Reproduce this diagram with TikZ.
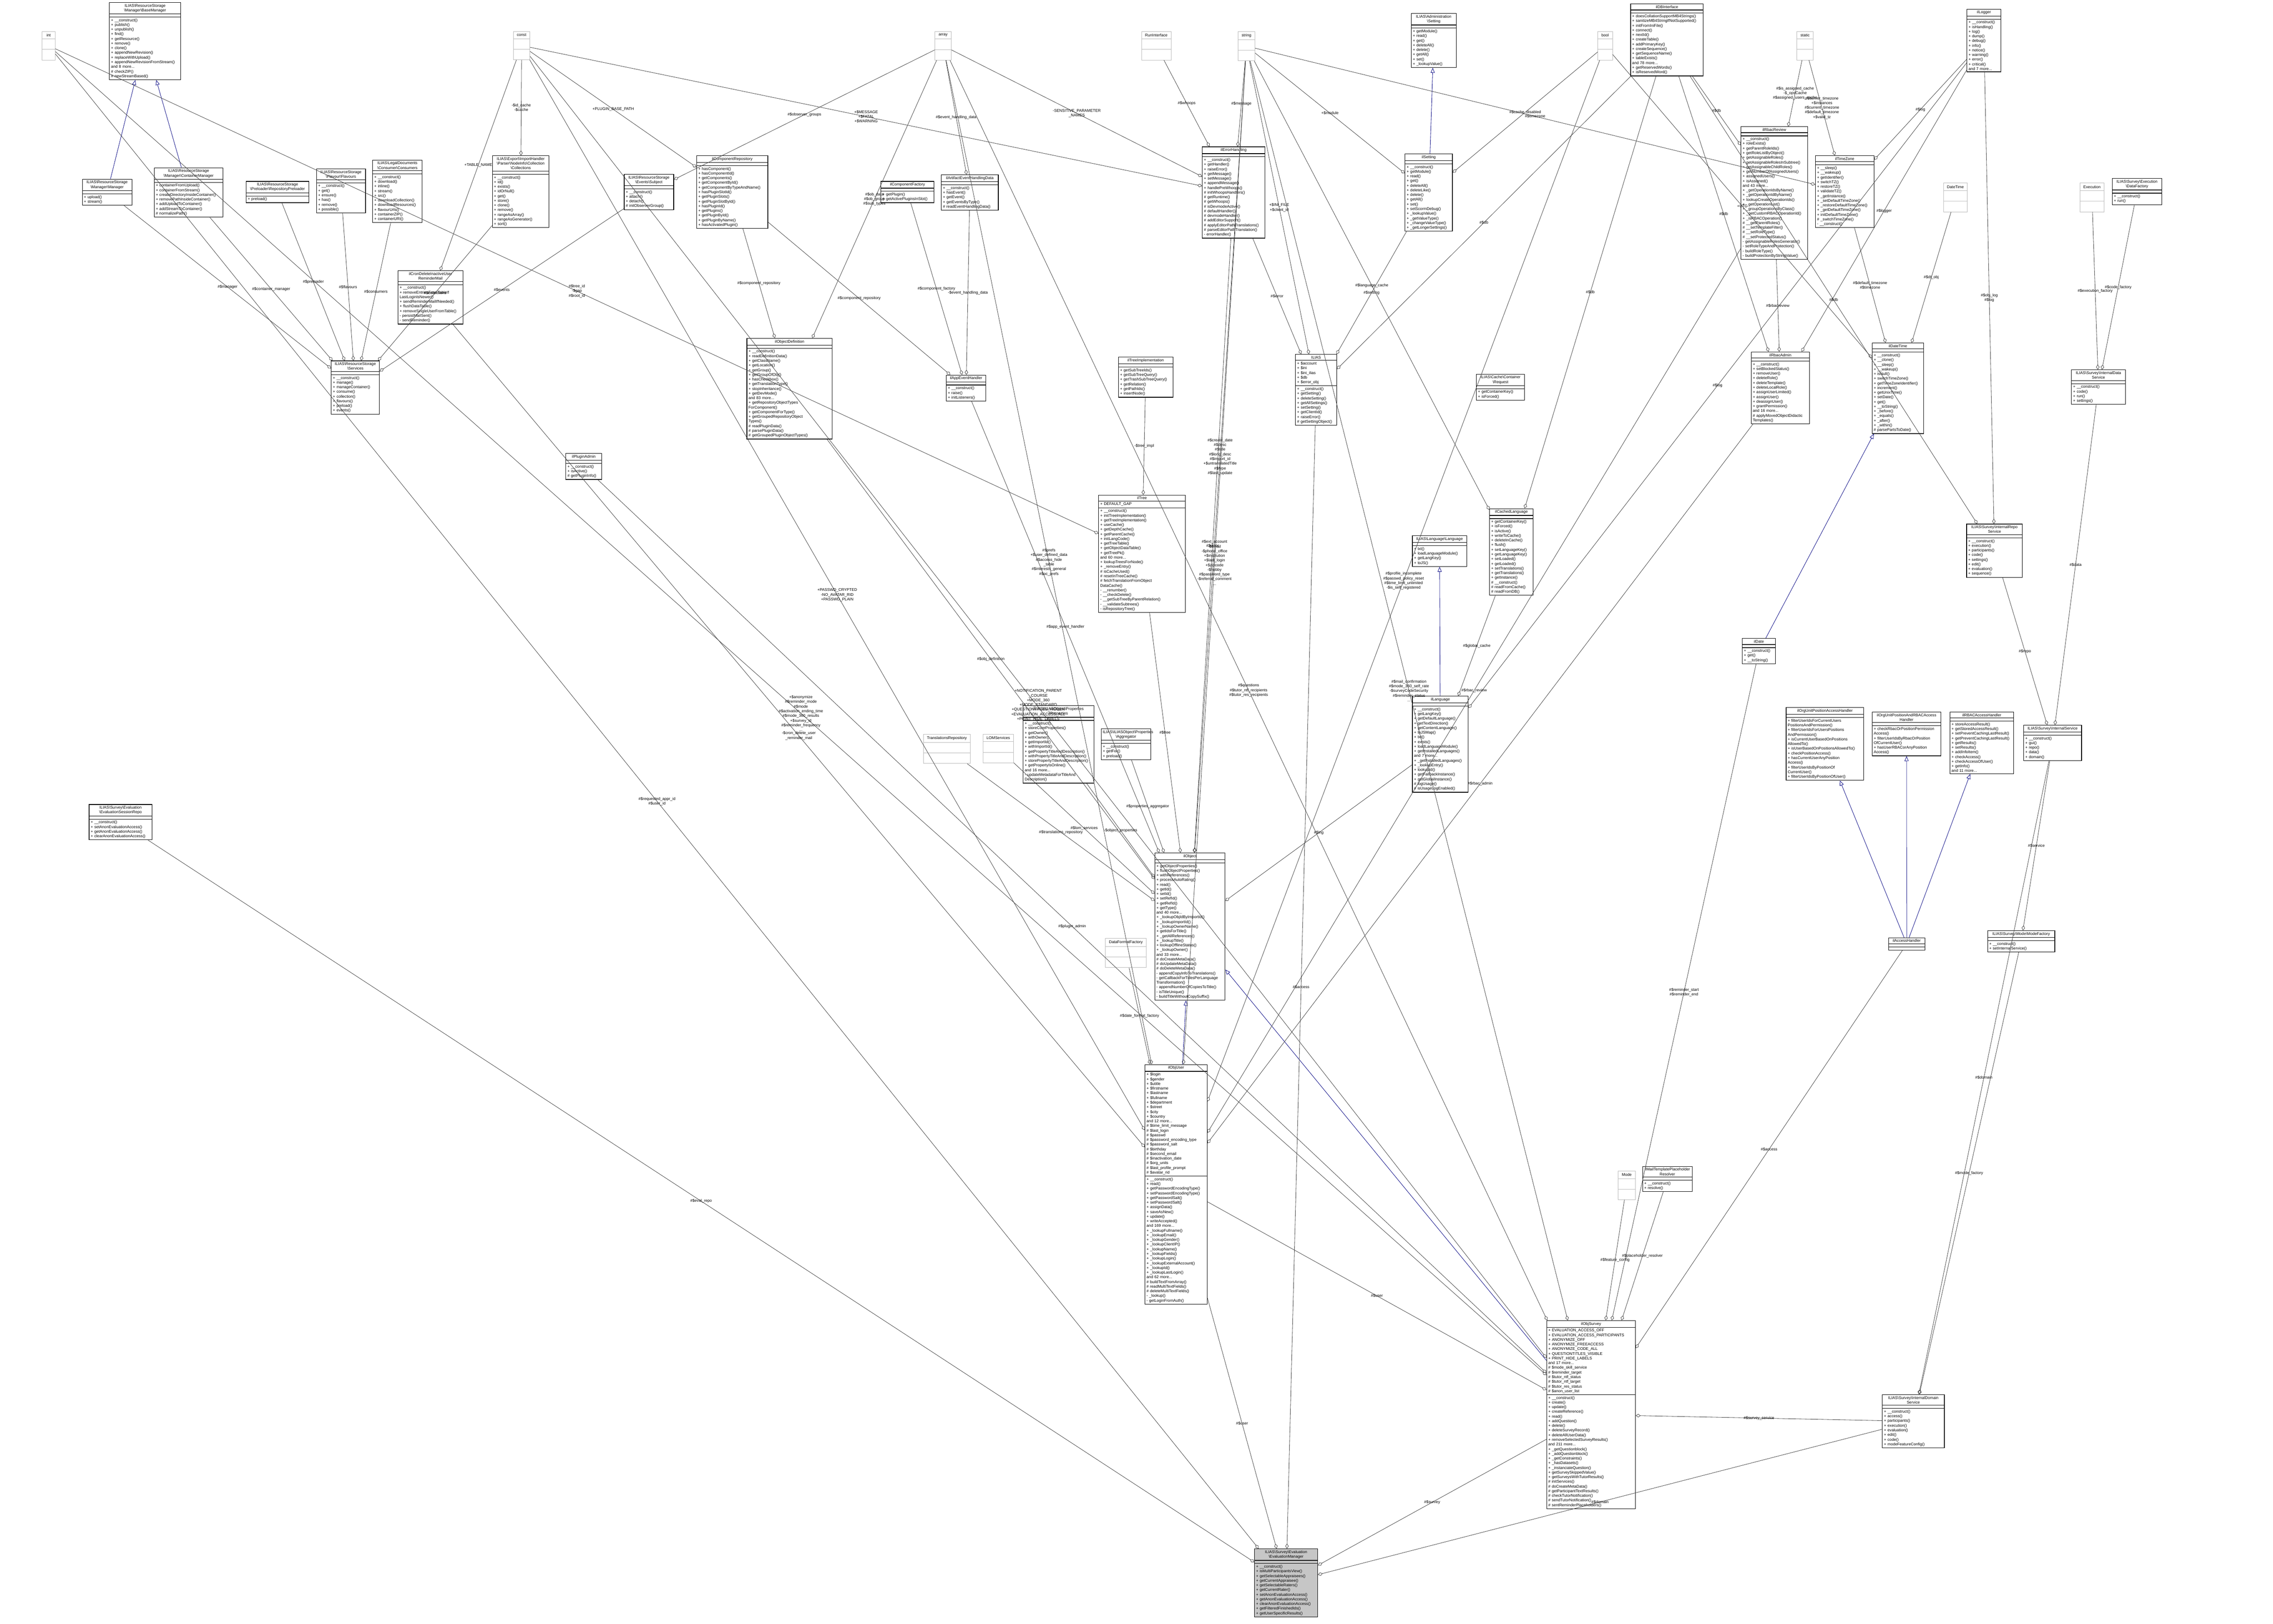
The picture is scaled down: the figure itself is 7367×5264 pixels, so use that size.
\documentclass[tikz,border=0pt]{standalone}
\usepackage{fontspec}
\setmainfont{Liberation Sans}
\usetikzlibrary{arrows.meta,shapes.multipart}

\newcommand{\bs}{\textbackslash{}}
% class box: name, x, y, width(cm), title, attributes, methods
\newcommand{\umlclass}[7]{%
  \node[umlbox, text width=#4cm] (#1) at (#2,#3)
    {{\centering #5\par}\nodepart{two}#6\nodepart{three}#7};}
% grey placeholder for a plain type
\newcommand{\typebox}[4]{%
  \node[typebox] (#1) at (#2,#3) {#4\nodepart{two}\nodepart{three}};}

\begin{document}
\begin{tikzpicture}[x=0.01cm, y=-0.01cm,
   umlbox/.style = {rectangle split, rectangle split parts=3, draw=black,
                    line width=0.5pt, anchor=north west, align=left,
                    inner xsep=1.5pt, inner ysep=1.2pt, fill=white,
                    font=\fontsize{3.6}{4.3}\selectfont},
   typebox/.style = {rectangle split, rectangle split parts=3, draw=gray!55,
                     anchor=north west, align=center, minimum width=0.4cm,
                     inner ysep=2pt, fill=white,
                     font=\fontsize{3.6}{4.3}\selectfont},
       lbl/.style = {font=\fontsize{3.6}{4.3}\selectfont, align=center,
                     inner sep=0.5pt},
every edge/.style = {draw=black!75, line width=0.35pt,
                     -{Diamond[open, length=1.6mm, width=1.1mm]}},
      isa/.style = {draw=blue!50!black, line width=0.35pt,
                     -{Triangle[open, length=1.6mm, width=1.3mm]}}
                        ]
\useasboundingbox (0,0) rectangle (7367,5264);

% plain types
\typebox{int}{136}{101}{int}
\typebox{const}{1663}{101}{const}
\typebox{array}{3030}{101}{array}
\typebox{runif}{3699}{101}{RunInterface}
\typebox{string}{4012}{101}{string}
\typebox{bool}{5178}{101}{bool}
\typebox{static}{5823}{101}{static}
\typebox{datetime}{6298}{593}{DateTime}
\typebox{execution}{6740}{593}{Execution}
\typebox{mode}{5244}{3795}{Mode}
\typebox{transrepo}{2992}{2379}{TranslationsRepository}
\typebox{lomserv}{3185}{2379}{LOMServices}
\typebox{dffactory}{3582}{3041}{DataFormatFactory}

% top row
\umlclass{basemgr}{354}{7}{2.2}{ILIAS\bs ResourceStorage\\\bs Manager\bs BaseManager}{}
 {+ \_\_construct()\\+ publish()\\+ unpublish()\\+ find()\\+ getResource()\\+ remove()\\+ clone()\\+ appendNewRevision()\\+ replaceWithUpload()\\+ appendNewRevisionFromStream()\\and 8 more...\\\# checkZIP()\\\# newStreamBased()}
\umlclass{admsetting}{4573}{43}{1.35}{ILIAS\bs Administration\\\bs Setting}{}
 {+ getModule()\\+ read()\\+ get()\\+ deleteAll()\\+ delete()\\+ getAll()\\+ set()\\+ \_lookupValue()}
\umlclass{dbif}{5284}{12}{2.25}{ilDBInterface}{}
 {+ doesCollationSupportMB4Strings()\\+ sanitizeMB4StringIfNotSupported()\\+ initFromIniFile()\\+ connect()\\+ nextId()\\+ createTable()\\+ addPrimaryKey()\\+ createSequence()\\+ getSequenceName()\\+ tableExists()\\and 78 more...\\+ getReservedWords()\\+ isReservedWord()}
\umlclass{logger}{6374}{29}{1.0}{ilLogger}{}
 {+ \_\_construct()\\+ isHandling()\\+ log()\\+ dump()\\+ debug()\\+ info()\\+ notice()\\+ warning()\\+ error()\\+ critical()\\and 7 more...}

% resource storage
\umlclass{manager}{266}{580}{1.5}{ILIAS\bs ResourceStorage\\\bs Manager\bs Manager}{}
 {+ upload()\\+ stream()}
\umlclass{contmgr}{499}{543}{2.12}{ILIAS\bs ResourceStorage\\\bs Manager\bs ContainerManager}{}
 {+ containerFromUpload()\\+ containerFromStream()\\+ createDirectoryInsideContainer()\\+ removePathInsideContainer()\\+ addUploadToContainer()\\+ addStreamToContainer()\\\# normalizePath()}
\umlclass{preloader}{797}{587}{1.93}{ILIAS\bs ResourceStorage\\\bs Preloader\bs RepositoryPreloader}{}
 {+ preload()}
\umlclass{flavours}{1025}{547}{1.48}{ILIAS\bs ResourceStorage\\\bs Flavour\bs Flavours}{}
 {+ \_\_construct()\\+ get()\\+ ensure()\\+ has()\\+ remove()\\+ possible()}
\umlclass{consumers}{1207}{518}{1.5}{ILIAS\bs LegalDocuments\\\bs Consumer\bs Consumers}{}
 {+ \_\_construct()\\+ download()\\+ inline()\\+ stream()\\+ src()\\+ downloadCollection()\\+ downloadResources()\\+ flavourUrls()\\+ containerZIP()\\+ containerURI()}
\umlclass{collections}{1595}{504}{1.73}{ILIAS\bs Export\bs ImportHandler\\\bs Parser\bs NodeInfo\bs Collection\\\bs Collections}{}
 {+ \_\_construct()\\+ id()\\+ exists()\\+ idOrNull()\\+ get()\\+ store()\\+ clone()\\+ remove()\\+ rangeAsArray()\\+ rangeAsGenerator()\\+ sort()}
\umlclass{subject}{2022}{564}{1.5}{ILIAS\bs ResourceStorage\\\bs Events\bs Subject}{}
 {+ \_\_construct()\\+ attach()\\+ detach()\\\# initObserverGroup()}
\umlclass{comprepo}{2257}{504}{2.2}{ilComponentRepository}{}
 {+ hasComponent()\\+ hasComponentId()\\+ getComponents()\\+ getComponentById()\\+ getComponentByTypeAndName()\\+ hasPluginSlotId()\\+ getPluginSlots()\\+ getPluginSlotById()\\+ hasPluginId()\\+ getPlugins()\\+ getPluginById()\\+ getPluginByName()\\+ hasActivatedPlugin()}
\umlclass{compfactory}{2854}{587}{1.62}{ilComponentFactory}{}
 {+ getPlugin()\\+ getActivePluginsInSlot()}
\umlclass{artifact}{3050}{566}{1.74}{ilArtifactEventHandlingData}{}
 {+ \_\_construct()\\+ hasEvent()\\+ getEvent()\\+ getEventsByType()\\\# readEventHandlingData()}
\umlclass{errhandling}{3896}{475}{1.92}{ilErrorHandling}{}
 {+ \_\_construct()\\+ getHandler()\\+ raiseError()\\+ getMessage()\\+ setMessage()\\+ appendMessage()\\+ handlePreWhoops()\\\# initWhoopsHandlers()\\\# getRuntime()\\\# getWhoops()\\\# isDevmodeActive()\\\# defaultHandler()\\\# devmodeHandler()\\\# addEditorSupport()\\\# applyEditorPathTranslations()\\\# parseEditorPathTranslation()\\- errorHandler()}
\umlclass{setting}{4553}{498}{1.43}{ilSetting}{}
 {+ \_\_construct()\\+ getModule()\\+ read()\\+ get()\\+ deleteAll()\\+ deleteLike()\\+ delete()\\+ getAll()\\+ set()\\+ setScormDebug()\\+ \_lookupValue()\\+ \_getValueType()\\+ \_changeValueType()\\+ \_getLongerSettings()}
\umlclass{rbacreview}{5642}{410}{2.05}{ilRbacReview}{}
 {+ \_\_construct()\\+ roleExists()\\+ getParentRoleIds()\\+ getRoleListByObject()\\+ getAssignableRoles()\\+ getAssignableRolesInSubtree()\\+ getAssignableChildRoles()\\+ getNumberOfAssignedUsers()\\+ assignedUsers()\\+ isAssigned()\\and 43 more...\\+ \_getOperationIdsByName()\\+ \_getOperationIdByName()\\+ lookupCreateOperationIds()\\+ \_getOperationList()\\+ \_groupOperationsByClass()\\+ \_getCustomRBACOperationId()\\+ \_isRBACOperation()\\\# \_\_getParentRoles()\\\# \_\_setTemplateFilter()\\\# \_\_setRoleType()\\\# \_\_setProtectedStatus()\\- getAssignableRolesGenerator()\\- setRoleTypeAndProtection()\\- buildRoleType()\\- buildProtectionByStringValue()}
\umlclass{timezone}{5883}{504}{1.79}{ilTimeZone}{}
 {+ \_\_sleep()\\+ \_\_wakeup()\\+ getIdentifier()\\+ switchTZ()\\+ restoreTZ()\\+ validateTZ()\\+ \_getInstance()\\+ \_setDefaultTimeZone()\\+ \_restoreDefaultTimeZone()\\+ \_getDefaultTimeZone()\\+ initDefaultTimeZone()\\\# \_switchTimeZone()\\- \_\_construct()}
\umlclass{datafactory}{6845}{578}{1.5}{ILIAS\bs Survey\bs Execution\\\bs DataFactory}{}
 {+ \_\_construct()\\+ run()}

% second row
\umlclass{crondel}{1289}{877}{2.0}{ilCronDeleteInactiveUser\\ReminderMail}{}
 {+ \_\_construct()\\+ removeEntriesFromTableIf\\LastLoginIsNewer()\\+ sendReminderMailIfNeeded()\\+ flushDataTable()\\+ removeSingleUserFromTable()\\- persistMailSent()\\- sendReminder()}
\umlclass{services}{1073}{1169}{1.45}{ILIAS\bs ResourceStorage\\\bs Services}{}
 {+ \_\_construct()\\+ manage()\\+ manageContainer()\\+ consume()\\+ collection()\\+ flavours()\\+ preload()\\+ events()}
\umlclass{objdef}{2420}{1096}{2.66}{ilObjectDefinition}{}
 {+ \_\_construct()\\+ readDefinitionData()\\+ getClassName()\\+ getLocation()\\+ getGroup()\\+ getGroupOfObj()\\+ hasCheckbox()\\+ getTranslationType()\\+ stopInheritance()\\+ getDevMode()\\and 83 more...\\+ getRepositoryObjectTypes\\ForComponent()\\+ getComponentForType()\\+ getGroupedRepositoryObject\\Types()\\\# readPluginData()\\\# parsePluginData()\\\# getGroupedPluginObjectTypes()}
\umlclass{appevent}{3066}{1215}{1.18}{ilAppEventHandler}{}
 {+ \_\_construct()\\+ raise()\\+ initListeners()}
\umlclass{treeimpl}{3624}{1157}{1.66}{ilTreeImplementation}{}
 {+ getSubTreeIds()\\+ getSubTreeQuery()\\+ getTrashSubTreeQuery()\\+ getRelation()\\+ getPathIds()\\+ insertNode()}
\umlclass{ilias}{4198}{1148}{1.23}{ILIAS}
 {+ \$account\\+ \$ini\\+ \$ini\_ilias\\+ \$db\\+ \$error\_obj}
 {+ \_\_construct()\\+ getSetting()\\+ deleteSetting()\\+ getAllSettings()\\+ setSetting()\\+ getClientId()\\+ raiseError()\\\# getSettingObject()}
\umlclass{cachereq}{4784}{1212}{1.46}{ILIAS\bs Cache\bs Container\\\bs Request}{}
 {+ getContainerKey()\\+ isForced()}
\umlclass{rbacadmin}{5675}{1140}{1.78}{ilRbacAdmin}{}
 {+ \_\_construct()\\+ setBlockedStatus()\\+ removeUser()\\+ deleteRole()\\+ deleteTemplate()\\+ deleteLocalRole()\\+ assignUserLimited()\\+ assignUser()\\+ deassignUser()\\+ grantPermission()\\and 16 more...\\\# applyMovedObjectDidactic\\Templates()}
\umlclass{datetimeil}{6067}{1111}{1.56}{ilDateTime}{}
 {+ \_\_construct()\\+ \_\_clone()\\+ \_\_sleep()\\+ \_\_wakeup()\\+ isNull()\\+ switchTimeZone()\\+ getTimeZoneIdentifier()\\+ increment()\\+ getUnixTime()\\+ setDate()\\+ get()\\+ \_\_toString()\\+ \_before()\\+ \_equals()\\+ \_after()\\+ \_within()\\\# parsePartsToDate()}
\umlclass{intdata}{6713}{1198}{1.64}{ILIAS\bs Survey\bs InternalData\\Service}{}
 {+ \_\_construct()\\+ code()\\+ run()\\+ settings()}
\umlclass{pluginadmin}{1833}{1469}{1.06}{ilPluginAdmin}{}
 {+ \_\_construct()\\+ isActive()\\\# getPluginInfo()}

% third row
\umlclass{tree}{3560}{1604}{2.7}{ilTree}{+ DEFAULT\_GAP}
 {+ \_\_construct()\\+ initTreeImplementation()\\+ getTreeImplementation()\\+ useCache()\\+ getDepthCache()\\+ getParentCache()\\+ initLangCode()\\+ getTreeTable()\\+ getObjectDataTable()\\+ getTreePk()\\and 60 more...\\+ lookupTreesForNode()\\+ \_removeEntry()\\\# isCacheUsed()\\\# resetInTreeCache()\\\# fetchTranslationFromObject\\DataCache()\\- \_\_renumber()\\- \_\_checkDelete()\\- \_\_getSubTreeByParentRelation()\\- \_\_validateSubtrees()\\- isRepositoryTree()}
\umlclass{cachedlang}{4827}{1648}{1.31}{ilCachedLanguage}{}
 {+ getContainerKey()\\+ isForced()\\+ isActive()\\+ writeToCache()\\+ deleteInCache()\\+ flush()\\+ setLanguageKey()\\+ getLanguageKey()\\+ setLoaded()\\+ getLoaded()\\+ setTranslations()\\+ getTranslations()\\+ getInstance()\\\# \_\_construct()\\\# readFromCache()\\\# readFromDB()}
\umlclass{langlang}{4577}{1736}{1.65}{ILIAS\bs Language\bs Language}{}
 {+ txt()\\+ loadLanguageModule()\\+ getLangKey()\\+ toJS()}
\umlclass{intrepo}{6373}{1698}{1.7}{ILIAS\bs Survey\bs InternalRepo\\Service}{}
 {+ \_\_construct()\\+ execution()\\+ participants()\\+ code()\\+ settings()\\+ edit()\\+ evaluation()\\+ sequence()}
\umlclass{date}{5646}{2069}{0.97}{ilDate}{}
 {+ \_\_construct()\\+ get()\\+ \_\_toString()}
\umlclass{language}{4577}{2256}{1.7}{ilLanguage}{}
 {+ \_\_construct()\\+ getLangKey()\\+ getDefaultLanguage()\\+ getTextDirection()\\+ getContentLanguage()\\+ toJSMap()\\+ txt()\\+ exists()\\+ loadLanguageModule()\\+ getInstalledLanguages()\\and 7 more...\\+ \_getInstalledLanguages()\\+ \_lookupEntry()\\+ lookupId()\\+ getFallbackInstance()\\+ getGlobalInstance()\\\# logUsage()\\\# isUsageLogEnabled()}
\umlclass{properties}{3315}{2287}{2.19}{ILIAS\bs ILIASObject\bs Properties\\\bs Properties}{}
 {+ \_\_construct()\\+ storeCoreProperties()\\+ getOwner()\\+ withOwner()\\+ getImportId()\\+ withImportId()\\+ getPropertyTitleAndDescription()\\+ withPropertyTitleAndDescription()\\+ storePropertyTitleAndDescription()\\+ getPropertyIsOnline()\\and 16 more...\\- updateMetadataForTitleAnd\\Description()}
\umlclass{aggregator}{3568}{2362}{1.5}{ILIAS\bs ILIASObject\bs Properties\\\bs Aggregator}{}
 {+ \_\_construct()\\+ getFor()\\+ preload()}
\umlclass{orgunit}{5788}{2293}{2.41}{ilOrgUnitPositionAccessHandler}{}
 {+ filterUserIdsForCurrentUsers\\PositionsAndPermission()\\+ filterUserIdsForUsersPositions\\AndPermission()\\+ isCurrentUserBasedOnPositions\\AllowedTo()\\+ isUserBasedOnPositionsAllowedTo()\\+ checkPositionAccess()\\+ hasCurrentUserAnyPosition\\Access()\\+ filterUserIdsByPositionOf\\CurrentUser()\\+ filterUserIdsByPositionOfUser()}
\umlclass{orgrbac}{6067}{2307}{2.12}{ilOrgUnitPositionAndRBACAccess\\Handler}{}
 {+ checkRbacOrPositionPermission\\Access()\\+ filterUserIdsByRbacOrPosition\\OfCurrentUser()\\+ hasUserRBACorAnyPosition\\Access()}
\umlclass{rbacaccess}{6319}{2307}{1.96}{ilRBACAccessHandler}{}
 {+ storeAccessResult()\\+ getStoredAccessResult()\\+ setPreventCachingLastResult()\\+ getPreventCachingLastResult()\\+ getResults()\\+ setResults()\\+ addInfoItem()\\+ checkAccess()\\+ checkAccessOfUser()\\+ getInfo()\\and 11 more...}
\umlclass{intservice}{6558}{2350}{1.77}{ILIAS\bs Survey\bs InternalService}{}
 {+ \_\_construct()\\+ gui()\\+ repo()\\+ data()\\+ domain()}
\umlclass{evalrepo}{288}{2607}{1.93}{ILIAS\bs Survey\bs Evaluation\\\bs EvaluationSessionRepo}{}
 {+ \_\_construct()\\+ setAnonEvaluationAccess()\\+ getAnonEvaluationAccess()\\+ clearAnonEvaluationAccess()}

% lower part
\umlclass{object}{3742}{2764}{2.17}{ilObject}{}
 {+ getObjectProperties()\\+ flushObjectProperties()\\+ withReferences()\\+ processAutoRating()\\+ read()\\+ getId()\\+ setId()\\+ setRefId()\\+ getRefId()\\+ getType()\\and 40 more...\\+ \_lookupObjIdByImportId()\\+ \_lookupImportId()\\+ \_lookupOwnerName()\\+ getIdsForTitle()\\+ \_getAllReferences()\\+ \_lookupTitle()\\+ lookupOfflineStatus()\\+ \_lookupOwner()\\and 33 more...\\\# doCreateMetaData()\\\# doUpdateMetaData()\\\# doDeleteMetaData()\\- appendCopyInfoToTranslations()\\- getCallbackForTitlesPerLanguage\\Transformation()\\- appendNumberOfCopiesToTitle()\\- isTitleUnique()\\- buildTitleWithoutCopySuffix()}
\umlclass{access}{6120}{3039}{1.07}{ilAccessHandler}{}{}
\umlclass{modefactory}{6441}{3016}{2.07}{ILIAS\bs Survey\bs Mode\bs ModeFactory}{}
 {+ \_\_construct()\\+ setInternalService()}
\umlclass{objuser}{3710}{3450}{1.91}{ilObjUser}
 {+ \$login\\+ \$gender\\+ \$utitle\\+ \$firstname\\+ \$lastname\\+ \$fullname\\+ \$department\\+ \$street\\+ \$city\\+ \$country\\and 12 more...\\\# \$time\_limit\_message\\\# \$last\_login\\\# \$passwd\\\# \$password\_encoding\_type\\\# \$password\_salt\\\# \$birthday\\\# \$second\_email\\\# \$inactivation\_date\\\# \$org\_units\\\# \$last\_profile\_prompt\\\# \$avatar\_rid}
 {+ \_\_construct()\\+ read()\\+ getPasswordEncodingType()\\+ setPasswordEncodingType()\\+ getPasswordSalt()\\+ setPasswordSalt()\\+ assignData()\\+ saveAsNew()\\+ update()\\+ writeAccepted()\\and 169 more...\\+ \_lookupFullname()\\+ \_lookupEmail()\\+ \_lookupGender()\\+ \_lookupClientIP()\\+ \_lookupName()\\+ \_lookupFields()\\+ \_lookupLogin()\\+ \_lookupExternalAccount()\\+ \_lookupId()\\+ \_lookupLastLogin()\\and 62 more...\\\# buildTextFromArray()\\\# readMultiTextFields()\\\# deleteMultiTextFields()\\- \_lookup()\\- getLoginFromAuth()}
\umlclass{resolver}{5323}{3780}{1.5}{ilMailTemplatePlaceholder\\Resolver}{}
 {+ \_\_construct()\\+ resolve()}
\umlclass{survey}{5012}{4280}{2.77}{ilObjSurvey}
 {+ EVALUATION\_ACCESS\_OFF\\+ EVALUATION\_ACCESS\_PARTICIPANTS\\+ ANONYMIZE\_OFF\\+ ANONYMIZE\_FREEACCESS\\+ ANONYMIZE\_CODE\_ALL\\+ QUESTIONTITLES\_VISIBLE\\+ PRINT\_HIDE\_LABELS\\and 17 more...\\\# \$mode\_skill\_service\\\# \$reminder\_target\\\# \$tutor\_ntf\_status\\\# \$tutor\_ntf\_target\\\# \$tutor\_res\_status\\\# \$anon\_user\_list}
 {+ \_\_construct()\\+ create()\\+ update()\\+ createReference()\\+ read()\\+ addQuestion()\\+ delete()\\+ deleteSurveyRecord()\\+ deleteAllUserData()\\+ removeSelectedSurveyResults()\\and 211 more...\\+ \_getQuestionblock()\\+ \_addQuestionblock()\\+ \_getConstraints()\\+ \_hasDatasets()\\+ \_instanciateQuestion()\\+ getSurveySkippedValue()\\+ getSurveysWithTutorResults()\\\# initServices()\\\# doCreateMetaData()\\\# getParticipantTextResults()\\\# checkTutorNotification()\\\# sendTutorNotification()\\\# sentReminderPlaceholders()}
\umlclass{intdomain}{6100}{4520}{1.9}{ILIAS\bs Survey\bs InternalDomain\\Service}{}
 {+ \_\_construct()\\+ access()\\+ participants()\\+ execution()\\+ evaluation()\\+ edit()\\+ code()\\+ modeFeatureConfig()}
\node[umlbox, text width=1.94cm, fill=gray!45] (evalmgr) at (4065,5020)
 {{\centering ILIAS\bs Survey\bs Evaluation\\\bs EvaluationManager\par}\nodepart{two}\nodepart{three}%
  + \_\_construct()\\+ isMultiParticipantsView()\\+ getSelectableAppraisees()\\+ getCurrentAppraisee()\\+ getSelectableRaters()\\+ getCurrentRater()\\+ setAnonEvaluationAccess()\\+ getAnonEvaluationAccess()\\+ clearAnonEvaluationAccess()\\+ getFilteredFinishedIds()\\+ getUserSpecificResults()};

% inheritance
\draw[isa] (manager) -- (basemgr);
\draw[isa] (contmgr) -- (basemgr);
\draw[isa] (setting) -- (admsetting);
\draw[isa] (language) -- (langlang);
\draw[isa] (date) -- (datetimeil);
\draw[isa] (objuser) -- (object);
\draw[isa] (survey) -- (object);
\draw[isa] (access) -- (orgunit);
\draw[isa] (access) -- (orgrbac);
\draw[isa] (access) -- (rbacaccess);

% members
\path   (manager) edge node[lbl]{\#\$manager} (services)
        (contmgr) edge node[lbl]{\#\$container\_manager} (services)
        (preloader) edge node[lbl]{\#\$preloader} (services)
        (flavours) edge node[lbl]{\#\$flavours} (services)
        (consumers) edge node[lbl]{\#\$consumers} (services)
        (collections) edge node[lbl]{\#\$collections} (services)
        (subject) edge node[lbl]{\#\$events} (services)
        (int) edge node[lbl]{\#\$tree\_id\\-\$gap\\\#\$root\_id} (tree)
        (const) edge node[lbl]{+TABLE\_NAME} (crondel)
        (const) edge node[lbl]{-\$id\_cache\\-\$cache} (collections)
        (const) edge node[lbl]{+PLUGIN\_BASE\_PATH} (comprepo)
        (array) edge node[lbl]{\#\$observer\_groups} (subject)
        (array) edge node[lbl]{\#\$event\_handling\_data} (artifact)
        (array) edge node[lbl]{-SENSITIVE\_PARAMETER\\\_NAMES} (errhandling)
        (runif) edge node[lbl]{\#\$whoops} (errhandling)
        (string) edge node[lbl]{\#\$message} (errhandling)
        (const) edge node[lbl]{+\$MESSAGE\\+\$FATAL\\+\$WARNING} (errhandling)
        (string) edge node[lbl]{+\$module} (setting)
        (bool) edge node[lbl]{\#\$cache\_disabled} (setting)
        (string) edge node[lbl]{+\$INI\_FILE\\+\$client\_id} (ilias)
        (setting) edge node[lbl]{\#\$setting} (ilias)
        (errhandling) edge node[lbl]{\#\$error} (ilias)
        (dbif) edge node[lbl]{\#\$db} (ilias)
        (dbif) edge node[lbl]{\#\$db} (rbacreview)
        (static) edge node[lbl]{\#\$is\_assigned\_cache\\-\$\_opsCache\\\#\$assigned\_users\_cache} (rbacreview)
        (static) edge node[lbl]{\#\$server\_timezone\\+\$instances\\\#\$current\_timezone\\\#\$default\_timezone\\+\$valid\_tz} (timezone)
        (logger) edge node[lbl]{\#\$log} (timezone)
        (string) edge node[lbl]{\#\$timezone} (timezone)
        (bool) edge node[lbl]{+UTC} (datetimeil)
        (rbacreview) edge node[lbl]{\#\$rbacreview} (rbacadmin)
        (dbif) edge node[lbl]{\#\$db} (rbacadmin)
        (logger) edge node[lbl]{\#\$logger} (rbacadmin)
        (timezone) edge node[lbl]{\#\$default\_timezone\\\#\$timezone} (datetimeil)
        (datetime) edge node[lbl]{\#\$dt\_obj} (datetimeil)
        (execution) edge node[lbl]{\#\$execution\_factory} (intdata)
        (datafactory) edge node[lbl]{\#\$code\_factory} (intdata)
        (comprepo) edge node[lbl]{\#\$component\_repository} (objdef)
        (comprepo) edge node[lbl]{\#\$component\_repository} (appevent)
        (compfactory) edge node[lbl]{\#\$component\_factory} (appevent)
        (artifact) edge node[lbl]{-\$event\_handling\_data} (appevent)
        (array) edge node[lbl]{\#\$ob\_data\\\#\$ob\_group\\\#\$sub\_types} (objdef)
        (treeimpl) edge node[lbl]{-\$tree\_impl} (tree)
        (dbif) edge node[lbl]{\#\$db} (cachedlang)
        (string) edge node[lbl]{\#\$language\_cache} (cachedlang)
        (cachedlang) edge node[lbl]{\#\$global\_cache} (language)
        (logger) edge node[lbl]{\#\$log} (language)
        (dbif) edge node[lbl]{\#\$db} (intrepo)
        (logger) edge node[lbl]{\#\$obj\_log\\\#\$log} (intrepo)
        (intrepo) edge node[lbl]{\#\$repo} (intservice)
        (intdata) edge node[lbl]{\#\$data} (intservice)
        (intservice) edge node[lbl]{\#\$service} (modefactory)
        (modefactory) edge node[lbl]{\#\$mode\_factory} (intdomain)
        (intservice) edge node[lbl]{\#\$domain} (intdomain)
        (language) edge node[lbl]{\#\$lng} (object)
        (tree) edge node[lbl]{\#\$tree} (object)
        (objdef) edge node[lbl]{\#\$obj\_definition} (object)
        (appevent) edge node[lbl]{\#\$app\_event\_handler} (object)
        (errhandling) edge node[lbl]{\#\$error} (object)
        (properties) edge node[lbl]{-\$object\_properties} (object)
        (transrepo) edge node[lbl]{\#\$translations\_repository} (object)
        (lomserv) edge node[lbl]{\#\$lom\_services} (object)
        (aggregator) edge node[lbl]{\#\$properties\_aggregator} (object)
        (string) edge node[lbl]{\#\$create\_date\\\#\$desc\\\#\$title\\\#\$long\_desc\\\#\$import\_id\\+\$untranslatedTitle\\\#\$type\\\#\$last\_update} (object)
        (dffactory) edge node[lbl]{\#\$date\_format\_factory} (objuser)
        (string) edge node[lbl]{\#\$ext\_account\\-\$email\\-\$phone\_office\\+\$institution\\+\$last\_login\\+\$zipcode\\-\$hobby\\\#\$password\_type\\-\$referral\_comment\\...} (objuser)
        (const) edge node[lbl]{+PASSWD\_CRYPTED\\-NO\_AVATAR\_RID\\+PASSWD\_PLAIN} (objuser)
        (array) edge node[lbl]{\#\$prefs\\+\$user\_defined\_data\\\#\$access\_hide\\\_table\\\#\$interests\_general\\\#\$oc\_prefs} (objuser)
        (bool) edge node[lbl]{\#\$profile\_incomplete\\\#\$passwd\_policy\_reset\\\#\$time\_limit\_unlimited\\-\$is\_self\_registered} (objuser)
        (rbacreview) edge node[lbl]{\#\$rbac\_review} (objuser)
        (rbacadmin) edge node[lbl]{\#\$rbac\_admin} (objuser)
        (crondel) edge node[lbl]{-\$cron\_delete\_user\\\_reminder\_mail} (objuser)
        (int) edge node[lbl]{+\$anonymize\\\#\$reminder\_mode\\\#\$mode\\\#\$activation\_ending\_time\\\#\$mode\_360\_results\\+\$survey\_id\\\#\$reminder\_frequency\\...} (survey)
        (const) edge node[lbl]{+NOTIFICATION\_PARENT\\\_COURSE\\+MODE\_360\\+MODE\_STANDARD\\+QUESTIONTITLES\_HIDDEN\\+EVALUATION\_ACCESS\_ALL\\+PRINT\_HIDE\_LABELS\\...} (survey)
        (array) edge node[lbl]{\#\$questions\\\#\$tutor\_ntf\_recipients\\\#\$tutor\_res\_recipients} (survey)
        (string) edge node[lbl]{\#\$mail\_confirmation\\\#\$mode\_360\_self\_rate\\-\$surveyCodeSecurity\\\#\$reminder\_status\\...} (survey)
        (pluginadmin) edge node[lbl]{\#\$plugin\_admin} (survey)
        (objuser) edge node[lbl]{\#\$user} (survey)
        (access) edge node[lbl]{\#\$access} (survey)
        (date) edge node[lbl]{\#\$reminder\_start\\\#\$reminder\_end} (survey)
        (mode) edge node[lbl]{\#\$feature\_config} (survey)
        (resolver) edge node[lbl]{\#\$placeholder\_resolver} (survey)
        (intdomain) edge node[lbl]{\#\$survey\_service} (survey)
        (int) edge node[lbl]{\#\$requested\_appr\_id\\\#\$user\_id} (evalmgr)
        (evalrepo) edge node[lbl]{\#\$eval\_repo} (evalmgr)
        (objuser) edge node[lbl]{\#\$user} (evalmgr)
        (survey) edge node[lbl]{\#\$survey} (evalmgr)
        (intdomain) edge node[lbl]{\#\$domain} (evalmgr)
        (ilias) edge node[lbl]{\#\$access} (evalmgr);
\end{tikzpicture}
\end{document}
